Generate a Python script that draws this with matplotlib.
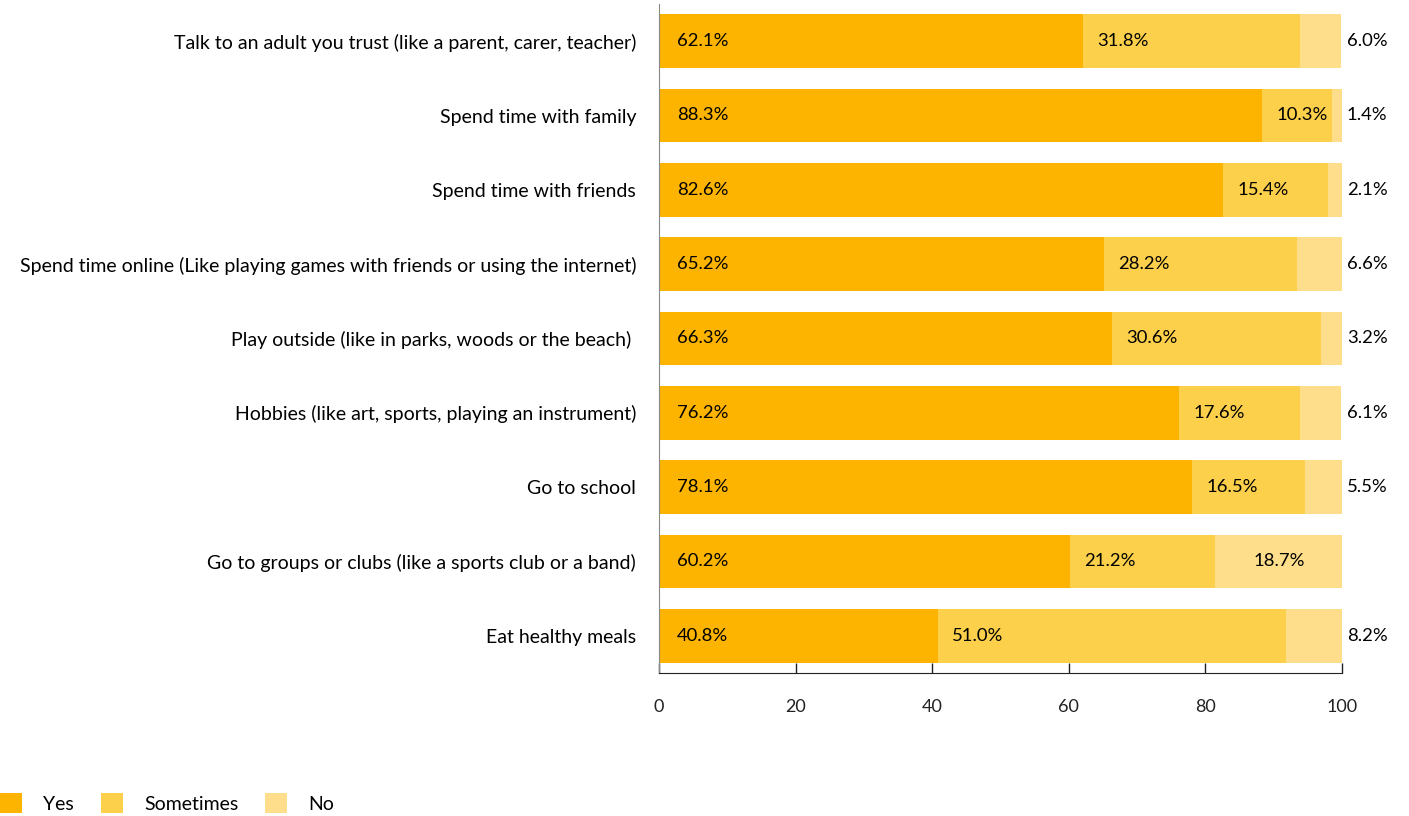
import numpy as np
import matplotlib.pyplot as plt
from matplotlib.patches import Patch


categories = [
    "Talk to an adult you trust (like a parent, carer, teacher)",
    "Spend time with family",
    "Spend time with friends",
    "Spend time online (Like playing games with friends or using the internet)",
    "Play outside (like in parks, woods or the beach) ",
    "Hobbies (like art, sports, playing an instrument)",
    "Go to school",
    "Go to groups or clubs (like a sports club or a band)",
    "Eat healthy meals",
]
yes_values = [62.1, 88.3, 82.6, 65.2, 66.3, 76.2, 78.1, 60.2, 40.8]
sometimes_values = [31.8, 10.3, 15.4, 28.2, 30.6, 17.6, 16.5, 21.2, 51.0]
no_values = [6.0, 1.4, 2.1, 6.6, 3.2, 6.1, 5.5, 18.7, 8.2]
series_names = ["Yes", "Sometimes", "No"]
colors = ["#FDB400", "#FDD04B", "#FEDE8A"]

plt.rcParams["font.family"] = ["Lato", "DejaVu Sans"]
FS_CAT = 14
FS_VAL = 13.3
FS_TICK = 13

fig = plt.figure(figsize=(14.09, 8.16), dpi=100)
ax = fig.add_axes([659 / 1409, 1 - 673 / 816, (1342 - 659) / 1409, 669 / 816])

y = np.arange(len(categories))
series = [np.array(yes_values), np.array(sometimes_values), np.array(no_values)]
left = np.zeros(len(categories))
px = 100 / (1342 - 659)  # data units per pixel

for k, (vals, color) in enumerate(zip(series, colors)):
    ax.barh(y, vals, left=left, height=0.726, color=color, linewidth=0)
    for i, v in enumerate(vals):
        label = f"{v:.1f}%"
        if k == 2 and v < 10:
            # small "No" shares sit outside the bar
            ax.text(100 + 5 * px, y[i], label, va="center", ha="left", fontsize=FS_VAL)
        elif k == 2:
            ax.text(left[i] + v / 2, y[i], label, va="center", ha="center", fontsize=FS_VAL)
        else:
            pad = 18 if k == 0 else 14
            ax.text(left[i] + pad * px, y[i], label, va="center", ha="left", fontsize=FS_VAL)
    left = left + vals

ax.set_xlim(0, 100)
ax.set_ylim(8.5, -0.5)
ax.set_yticks(y)
ax.set_yticklabels(categories, fontsize=FS_CAT)
ax.tick_params(axis="y", length=0, pad=16.5)
ax.set_xticks([0, 20, 40, 60, 80, 100])
ax.tick_params(axis="x", direction="in", length=7, width=1, pad=19, labelsize=FS_TICK, colors="#222222")

for side in ["top", "right"]:
    ax.spines[side].set_visible(False)
ax.spines["left"].set_color("#888888")
ax.spines["bottom"].set_color("#222222")

handles = [Patch(facecolor=c, edgecolor="none") for c in colors]
fig.legend(handles, series_names, loc="lower left", bbox_to_anchor=(0, 3 / 816), ncol=3,
           frameon=False, fontsize=14, handlelength=1.13, handleheight=1.18,
           handletextpad=1.08, columnspacing=1.4, borderpad=0, borderaxespad=0)

fig.savefig("out.png", dpi=100)
